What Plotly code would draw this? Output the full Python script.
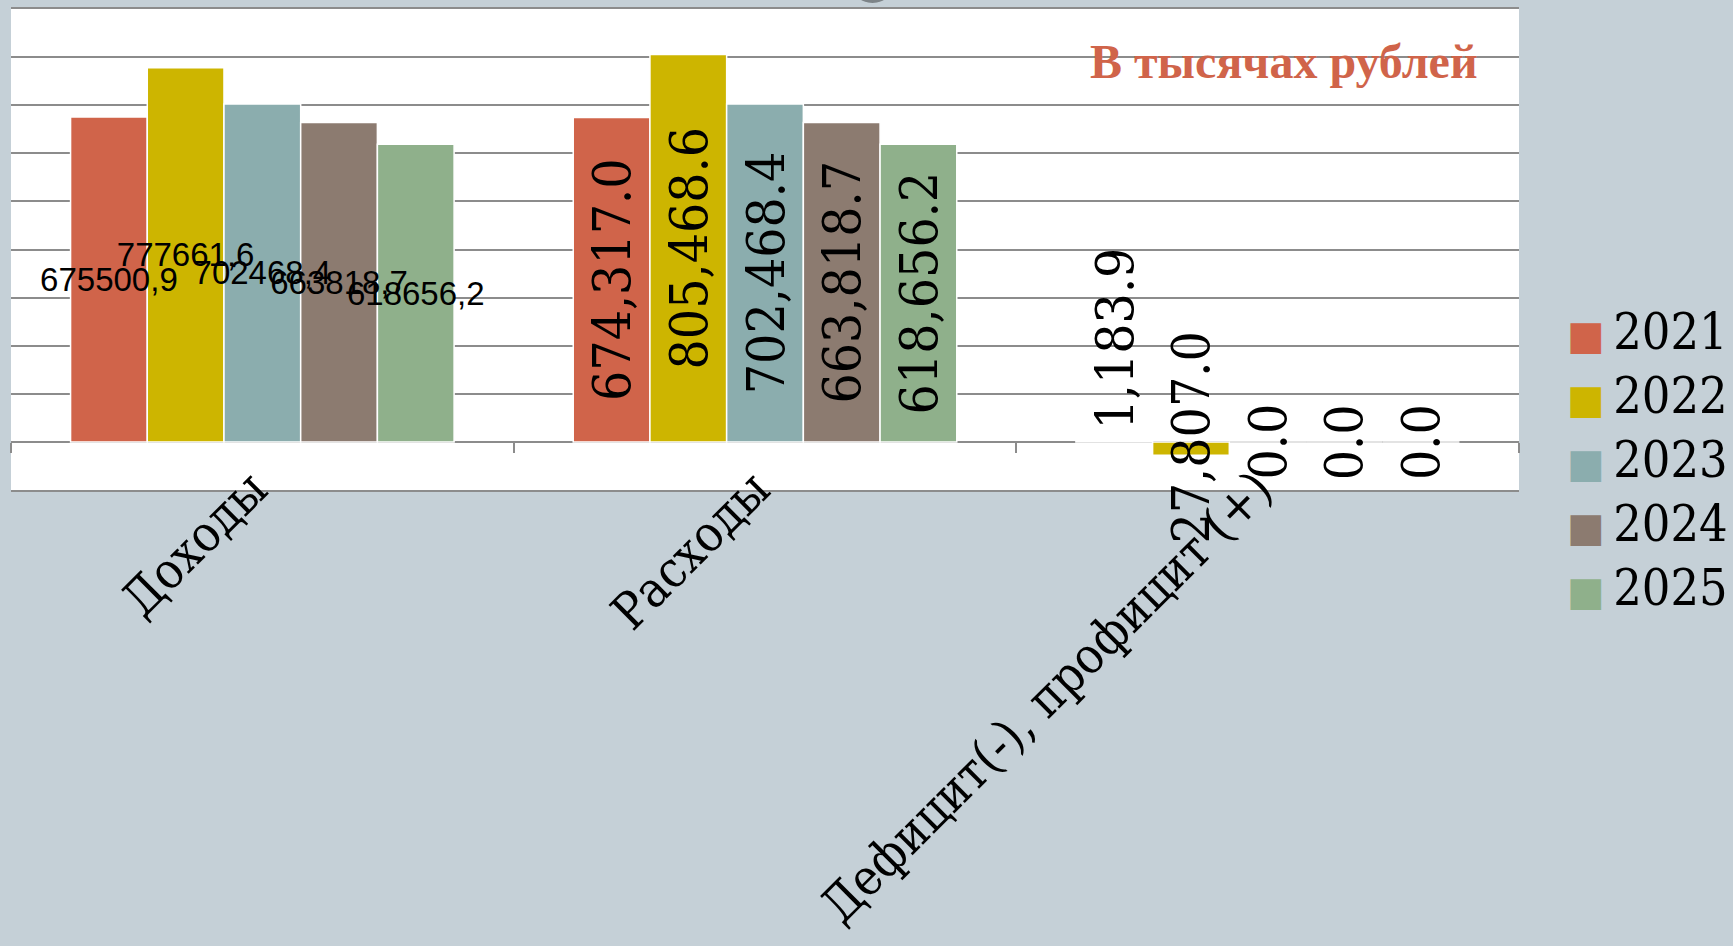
import plotly.graph_objects as go

categories = ["Доходы", "Расходы", "Дефицит(-), профицит (+)"]
years = ["2021", "2022", "2023", "2024", "2025"]
income = [675500.9, 777661.6, 702468.4, 663818.7, 618656.2]
expense = [674317.0, 805468.6, 702468.4, 663818.7, 618656.2]
balance = [1183.9, -27807.0, 0.0, 0.0, 0.0]
colors = ["#D0644A", "#CDB500", "#8BADAE", "#8C7B70", "#8FB08B"]
y_range = [-100000, 900000]
y_step = 100000
unit_note = "В тысячах рублей"

SERIF = "DejaVu Serif Condensed, DejaVu Serif, serif"
SANS = "Liberation Sans, Arial, sans-serif"
BAR_GAP = 0.237
GRID = "#8C8C8C"
BG = "#C5D0D7"
CLEAR = "rgba(0,0,0,0)"
VAL_SIZE = 53

fig = go.Figure()
# coloured bars
for j, yr in enumerate(years):
    fig.add_trace(go.Bar(
        x=categories, y=[income[j], expense[j], balance[j]],
        marker=dict(color=colors[j], line=dict(color="white", width=1.5)),
        offsetgroup=yr, legendgroup=yr, showlegend=False, hoverinfo="skip"))

# value labels drawn above every bar
for j, yr in enumerate(years):
    fig.add_trace(go.Bar(
        x=[categories[0]], y=[income[j]],
        text=[f"{income[j]:.1f}".replace(".", ",")],
        textposition="inside", insidetextanchor="middle", textangle=0,
        constraintext="none",
        textfont=dict(family=SANS, size=33, color="black"),
        marker=dict(color=CLEAR, line=dict(width=0)),
        offsetgroup=yr, showlegend=False, hoverinfo="skip"))
    fig.add_trace(go.Bar(
        x=[categories[1]], y=[expense[j]],
        text=[f"{expense[j]:,.1f}"],
        textposition="inside", insidetextanchor="middle", textangle=-90,
        constraintext="none",
        textfont=dict(family=SERIF, size=VAL_SIZE, color="black"),
        marker=dict(color=CLEAR, line=dict(width=0)),
        offsetgroup=yr, showlegend=False, hoverinfo="skip"))

# legend entries
for j, yr in enumerate(years):
    fig.add_trace(go.Scatter(
        x=[None], y=[None], mode="markers",
        marker=dict(size=1, color=CLEAR, opacity=0),
        name=(f'<span style="color:{colors[j]};font-family:DejaVu Sans;font-size:40px">■</span>'
              f'\u2009<span style="font-size:50px">{yr}</span>'),
        legendgroup=yr, showlegend=True, hoverinfo="skip"))

slot = (1 - BAR_GAP) / len(years)
annotations = []
for j, v in enumerate(balance):
    xpos = 2 + (j - (len(years) - 1) / 2) * slot
    if v > 0:
        annotations.append(dict(x=xpos, y=v, xref="x", yref="y", text=f"{abs(v):,.1f}",
                                textangle=-90, showarrow=False, yanchor="bottom", yshift=10,
                                font=dict(family=SERIF, size=VAL_SIZE, color="black")))
    elif v < 0:
        annotations.append(dict(x=xpos, y=v / 2, xref="x", yref="y", text=f"{abs(v):,.1f}",
                                textangle=-90, showarrow=False, yanchor="middle", yshift=11,
                                font=dict(family=SERIF, size=VAL_SIZE, color="black")))
    else:
        annotations.append(dict(x=xpos, y=v, xref="x", yref="y", text=f"{abs(v):,.1f}",
                                textangle=-90, showarrow=False, yanchor="middle",
                                font=dict(family=SERIF, size=VAL_SIZE, color="black")))

annotations.append(dict(x=0.974, y=0.891, xref="paper", yref="paper", text=f"<b>{unit_note}</b>",
                        showarrow=False, xanchor="right", yanchor="middle",
                        font=dict(family="Liberation Serif, serif", size=48, color="#D0644A")))

zero_pos = (0 - y_range[0]) / (y_range[1] - y_range[0])

fig.update_layout(
    width=1733, height=946, autosize=False,
    margin=dict(l=11, r=214, t=9, b=456, pad=0, autoexpand=False),
    paper_bgcolor=BG, plot_bgcolor="white",
    barmode="group", bargap=BAR_GAP, bargroupgap=0,
    xaxis=dict(type="category", categoryorder="array", categoryarray=categories,
               tickangle=-45, tickfont=dict(family=SERIF, size=50, color="black"),
               ticklabelstandoff=-52, ticklabelshift=-10,
               showgrid=False, showline=True, linecolor=GRID, linewidth=1.5, mirror=True,
               ticks="", zeroline=False, automargin=False),
    xaxis2=dict(overlaying="x", anchor="free", position=zero_pos, range=[-0.5, 2.5],
                tickvals=[-0.5, 0.5, 1.5, 2.5], ticks="outside", ticklen=10, tickwidth=1.5,
                tickcolor=GRID, showticklabels=False, showgrid=False, zeroline=False,
                showline=False, automargin=False),
    yaxis=dict(range=y_range, dtick=y_step, tick0=0, showticklabels=False, showgrid=True,
               gridcolor=GRID, gridwidth=1.5, zeroline=True, zerolinecolor=GRID,
               zerolinewidth=1.5, ticks="", automargin=False),
    legend=dict(x=1.0053, xanchor="left", y=0.409, yanchor="top",
                font=dict(family=SERIF, size=47, color="black"),
                bgcolor="rgba(0,0,0,0)", itemwidth=30, tracegroupgap=0),
    annotations=annotations,
    shapes=[dict(type="circle", xref="paper", yref="paper",
                 x0=(850 - 11) / 1508, x1=(895 - 11) / 1508,
                 y0=(490 - 3) / 481, y1=(490 + 41) / 481,
                 fillcolor="#7D8488", line=dict(width=0), layer="above")],
)

fig.add_trace(go.Scatter(x=[], y=[], xaxis="x2", showlegend=False, hoverinfo="skip"))

fig.write_html("out.html", config={"displayModeBar": False},
               post_script="document.body.style.margin='0';")
